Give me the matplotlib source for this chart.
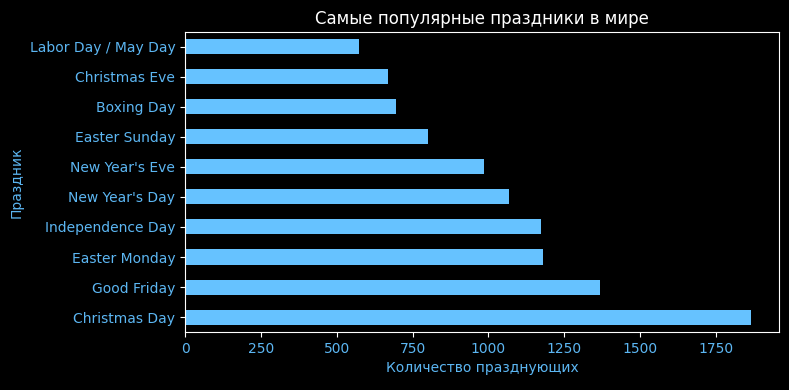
import pandas as pd
import matplotlib.pyplot as plt

plt.style.use('dark_background')

holidays = ['Christmas Day', 'Good Friday', 'Easter Monday', 'Independence Day',
            "New Year's Day", "New Year's Eve", 'Easter Sunday', 'Boxing Day',
            'Christmas Eve', 'Labor Day / May Day']
counts = [1864, 1368, 1178, 1172, 1066, 986, 800, 694, 668, 573]

text_color = '#5cb6f2'
bar_color = '#66c2ff'

s = pd.Series(counts, index=holidays)

fig, ax = plt.subplots(figsize=(7.89, 3.9), dpi=100)
s.plot(kind='barh', ax=ax, color=bar_color)
ax.set_title('Самые популярные праздники в мире', color='white')
ax.set_xlabel('Количество празднующих', color=text_color)
ax.set_ylabel('Праздник', color=text_color)
ax.tick_params(axis='both', labelcolor=text_color, colors='white')
for lbl in ax.get_xticklabels() + ax.get_yticklabels():
    lbl.set_color(text_color)

plt.subplots_adjust(left=0.2345, right=0.9873, top=0.918, bottom=0.1487)
plt.savefig('out.png')
